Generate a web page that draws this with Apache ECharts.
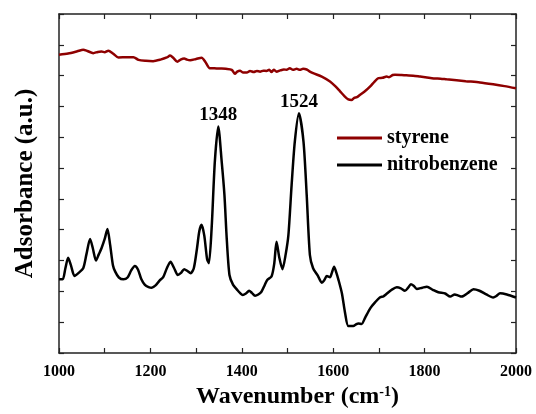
<!DOCTYPE html>
<html>
<head>
<meta charset="utf-8">
<script src="https://cdn.jsdelivr.net/npm/echarts@6/dist/echarts.min.js"></script>
<style>
  html, body { margin: 0; padding: 0; background: #fff; }
  #chart { width: 536px; height: 414px; }
</style>
</head>
<body>
<div id="chart"></div>
<script>
// wavenumber (cm-1), absorbance (a.u.)
const styreneX = [1000, 1020, 1040, 1053, 1062, 1075, 1085, 1093, 1100, 1108, 1118, 1130, 1150, 1163, 1174, 1190, 1206, 1222, 1236, 1243, 1250, 1259, 1266, 1274, 1280, 1287, 1300, 1312, 1320, 1330, 1340, 1350, 1356, 1365, 1378, 1385, 1390, 1396, 1403, 1411, 1418, 1426, 1433, 1440, 1447, 1454, 1460, 1465, 1470, 1476, 1484, 1492, 1498, 1505, 1512, 1520, 1527, 1534, 1542, 1548, 1556, 1575, 1593, 1605, 1615, 1625, 1633, 1640, 1646, 1652, 1659, 1670, 1681, 1690, 1699, 1708, 1717, 1722, 1730, 1735, 1750, 1760, 1775, 1790, 1805, 1820, 1835, 1848, 1870, 1890, 1921, 1950, 1975, 2000];
const styreneY = [9.68, 9.72, 9.79, 9.84, 9.80, 9.73, 9.77, 9.78, 9.76, 9.81, 9.72, 9.59, 9.60, 9.60, 9.51, 9.48, 9.47, 9.52, 9.59, 9.65, 9.58, 9.45, 9.52, 9.56, 9.52, 9.50, 9.54, 9.58, 9.45, 9.24, 9.24, 9.23, 9.23, 9.22, 9.19, 9.06, 9.13, 9.16, 9.10, 9.10, 9.15, 9.12, 9.15, 9.13, 9.16, 9.15, 9.19, 9.12, 9.19, 9.13, 9.17, 9.20, 9.19, 9.24, 9.19, 9.22, 9.19, 9.22, 9.20, 9.14, 9.08, 8.97, 8.81, 8.65, 8.49, 8.33, 8.23, 8.21, 8.28, 8.30, 8.38, 8.50, 8.65, 8.80, 8.92, 8.93, 8.97, 8.95, 9.02, 9.03, 9.02, 9.01, 9.00, 8.97, 8.94, 8.91, 8.90, 8.88, 8.85, 8.82, 8.78, 8.72, 8.66, 8.59];

const nitroX = [1000, 1008, 1014, 1020, 1026, 1034, 1043, 1053, 1060, 1068, 1074, 1081, 1087, 1093, 1100, 1106, 1112, 1118, 1123, 1131, 1141, 1150, 1158, 1166, 1173, 1180, 1188, 1196, 1203, 1212, 1220, 1228, 1236, 1244, 1252, 1260, 1267, 1274, 1281, 1288, 1295, 1302, 1307, 1312, 1318, 1324, 1328, 1334, 1341, 1348.5, 1356, 1362, 1367, 1373, 1381, 1390, 1396, 1402, 1409, 1416, 1422, 1429, 1436, 1443, 1450, 1456, 1465, 1471, 1476, 1482, 1489, 1496, 1502, 1509, 1516, 1525, 1535, 1542, 1549, 1556, 1566, 1575, 1580, 1586, 1593, 1597, 1602, 1606, 1612, 1619, 1626, 1633, 1644, 1650, 1655, 1662, 1670, 1681, 1692, 1702, 1710, 1717, 1728, 1739, 1748, 1757, 1764, 1770, 1776, 1783, 1795, 1805, 1818, 1830, 1845, 1856, 1866, 1873, 1881, 1895, 1907, 1920, 1935, 1950, 1958, 1965, 1980, 2000];
const nitroY = [2.39, 2.39, 2.75, 3.09, 2.85, 2.50, 2.60, 2.75, 3.20, 3.70, 3.40, 3.00, 3.20, 3.40, 3.70, 4.02, 3.50, 2.85, 2.64, 2.45, 2.39, 2.45, 2.68, 2.82, 2.70, 2.40, 2.21, 2.14, 2.12, 2.20, 2.35, 2.46, 2.75, 2.96, 2.75, 2.53, 2.60, 2.72, 2.66, 2.59, 2.75, 3.40, 3.95, 4.16, 3.80, 3.05, 2.91, 4.05, 6.21, 7.35, 6.21, 5.13, 3.72, 2.53, 2.21, 2.05, 1.95, 1.88, 1.93, 2.02, 1.95, 1.86, 1.90, 1.99, 2.20, 2.38, 2.48, 2.90, 3.61, 3.10, 2.72, 3.20, 3.83, 5.45, 6.86, 7.78, 6.86, 5.13, 3.18, 2.75, 2.52, 2.28, 2.35, 2.50, 2.46, 2.60, 2.80, 2.65, 2.35, 1.94, 1.30, 0.88, 0.88, 0.93, 0.96, 0.94, 1.15, 1.45, 1.65, 1.80, 1.84, 1.92, 2.05, 2.13, 2.10, 2.02, 2.12, 2.23, 2.18, 2.08, 2.12, 2.15, 2.05, 1.97, 1.93, 1.83, 1.90, 1.87, 1.83, 1.95, 2.07, 2.02, 1.90, 1.80, 1.86, 1.94, 1.90, 1.80];

// peak annotations
const peakX = [1348.5, 1525];
const peakY = [7.35, 7.78];
const peakText = ['1348', '1524'];

const FONT = '"Liberation Serif", "DejaVu Serif", serif';
const AXIS_COLOR = '#222';

const chart = echarts.init(document.getElementById('chart'));

const zip = (xs, ys) => xs.map((x, i) => [x, ys[i]]);

const option = {
  animation: false,
  backgroundColor: '#fff',
  grid: { left: 59, right: 20, top: 14, bottom: 61 },
  legend: {
    orient: 'vertical',
    left: 332,
    top: 123,
    icon: 'rect',
    itemWidth: 45,
    itemHeight: 3,
    itemGap: 7,
    textStyle: { fontFamily: FONT, fontWeight: 'bold', fontSize: 20, color: '#000', padding: [0, 0, 0, 0] },
    data: ['styrene', 'nitrobenzene'],
  },
  xAxis: [
    {
      type: 'value',
      min: 1000,
      max: 2000,
      interval: 100,
      name: 'Wavenumber (cm{sup|-1})',
      nameLocation: 'middle',
      nameGap: 28,
      nameTextStyle: {
        fontFamily: FONT,
        fontWeight: 'bold',
        fontSize: 24,
        color: '#000',
        verticalAlign: 'top',
        padding: [0, 0, 0, 20],
        rich: {
          sup: { fontFamily: FONT, fontWeight: 'bold', fontSize: 14, color: '#000', verticalAlign: 'top', padding: [0, 0, 9, 0] },
        },
      },
      axisLine: { onZero: false, lineStyle: { color: AXIS_COLOR, width: 1.5 } },
      axisTick: { inside: true, length: 5, lineStyle: { color: AXIS_COLOR, width: 1.2 } },
      axisLabel: {
        margin: 11,
        fontFamily: FONT,
        fontWeight: 'bold',
        fontSize: 16,
        color: '#000',
        formatter: (v) => (v % 200 === 0 ? String(v) : ''),
      },
      splitLine: { show: false },
    },
    {
      type: 'value',
      position: 'top',
      min: 1000,
      max: 2000,
      interval: 100,
      axisLine: { onZero: false, lineStyle: { color: AXIS_COLOR, width: 1.5 } },
      axisTick: { inside: true, length: 5, lineStyle: { color: AXIS_COLOR, width: 1.2 } },
      axisLabel: { show: false },
      splitLine: { show: false },
    },
  ],
  yAxis: [
    {
      type: 'value',
      min: 0,
      max: 11,
      interval: 1,
      name: 'Adsorbance (a.u.)',
      nameLocation: 'middle',
      nameGap: 21,
      nameTextStyle: { fontFamily: FONT, fontWeight: 'bold', fontSize: 25, color: '#000' },
      axisLine: { show: true, onZero: false, lineStyle: { color: AXIS_COLOR, width: 1.5 } },
      axisTick: { inside: true, length: 5, lineStyle: { color: AXIS_COLOR, width: 1.2 } },
      axisLabel: { show: false },
      splitLine: { show: false },
    },
    {
      type: 'value',
      position: 'right',
      min: 0,
      max: 11,
      interval: 1,
      axisLine: { show: true, onZero: false, lineStyle: { color: AXIS_COLOR, width: 1.5 } },
      axisTick: { inside: true, length: 5, lineStyle: { color: AXIS_COLOR, width: 1.2 } },
      axisLabel: { show: false },
      splitLine: { show: false },
    },
  ],
  series: [
    {
      name: 'styrene',
      type: 'line',
      symbol: 'none',
      smooth: 0.25,
      lineStyle: { color: '#8e0000', width: 2.5 },
      itemStyle: { color: '#8e0000' },
      data: zip(styreneX, styreneY),
    },
    {
      name: 'nitrobenzene',
      type: 'line',
      symbol: 'none',
      smooth: 0.25,
      lineStyle: { color: '#000', width: 2.5 },
      itemStyle: { color: '#000' },
      data: zip(nitroX, nitroY),
      markPoint: {
        symbol: 'circle',
        symbolSize: 0,
        label: {
          show: true,
          position: 'top',
          distance: 2,
          fontFamily: FONT,
          fontWeight: 'bold',
          fontSize: 19,
          color: '#000',
          formatter: (p) => p.name,
        },
        data: peakX.map((x, i) => ({ name: peakText[i], coord: [x, peakY[i]] })),
      },
    },
  ],
};

chart.setOption(option);
</script>
</body>
</html>
